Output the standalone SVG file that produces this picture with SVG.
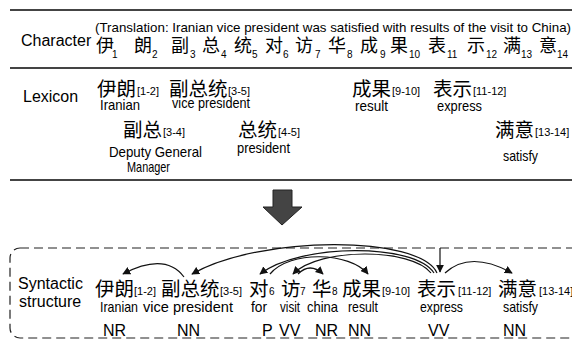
<svg xmlns="http://www.w3.org/2000/svg" width="572" height="342" viewBox="0 0 572 342">
<defs>
<style>
.lab{font-family:"Liberation Sans",Arial,sans-serif;font-size:16px;fill:#000}
.zh{font-family:"Noto Sans CJK SC",sans-serif;fill:#000}
.c18{font-size:18px}
.c20{font-size:19.5px}
.nar{font-family:"Liberation Sans Narrow","Liberation Sans",Arial,sans-serif;fill:#000}
.sub{font-family:"Liberation Sans",Arial,sans-serif;font-size:10px;fill:#000}
.br{font-family:"Liberation Sans Narrow","Liberation Sans",Arial,sans-serif;font-size:11px;fill:#000}
.gl{font-family:"Liberation Sans Narrow","Liberation Sans",Arial,sans-serif;font-size:14.5px;fill:#000}
.pos{font-family:"Liberation Sans",Arial,sans-serif;font-size:16px;fill:#000}
.rule{stroke:#444;stroke-width:2;fill:none}
.arc{stroke:#111;stroke-width:1.2;fill:none;marker-end:url(#ah)}
</style>
<marker id="ah" viewBox="0 0 10 10" refX="9" refY="5" markerWidth="8" markerHeight="8" markerUnits="userSpaceOnUse" orient="auto">
<path d="M0,0 L10,5 L0,10 z" fill="#111"/>
</marker>
</defs>
<rect width="572" height="342" fill="#fff"/>
<g id="rules">
<line class="rule" x1="10" y1="10" x2="572" y2="10"/>
<line class="rule" x1="10" y1="68" x2="572" y2="68"/>
<line class="rule" x1="10" y1="180" x2="572" y2="180"/>
</g>
<g id="character">
<text class="lab" x="21" y="46">Character</text>
<text class="nar" font-size="13" x="95" y="32" textLength="476" lengthAdjust="spacingAndGlyphs">(Translation: Iranian vice president was satisfied with results of the visit to China)</text>
<text class="zh c18" x="96" y="52">伊</text><text class="sub" x="112" y="58">1</text>
<text class="zh c18" x="134" y="52">朗</text><text class="sub" x="152" y="58">2</text>
<text class="zh c18" x="171" y="52">副</text><text class="sub" x="190" y="58">3</text>
<text class="zh c18" x="202" y="52">总</text><text class="sub" x="221" y="58">4</text>
<text class="zh c18" x="234" y="52">统</text><text class="sub" x="252" y="58">5</text>
<text class="zh c18" x="265" y="52">对</text><text class="sub" x="283" y="58">6</text>
<text class="zh c18" x="295" y="52">访</text><text class="sub" x="315" y="58">7</text>
<text class="zh c18" x="328" y="52">华</text><text class="sub" x="347" y="58">8</text>
<text class="zh c18" x="360" y="52">成</text><text class="sub" x="380" y="58">9</text>
<text class="zh c18" x="390" y="52">果</text><text class="sub" x="409" y="58">10</text>
<text class="zh c18" x="428" y="52">表</text><text class="sub" x="447" y="58">11</text>
<text class="zh c18" x="467" y="52">示</text><text class="sub" x="486" y="58">12</text>
<text class="zh c18" x="503" y="52">满</text><text class="sub" x="521" y="58">13</text>
<text class="zh c18" x="539" y="52">意</text><text class="sub" x="557" y="58">14</text>
</g>
<g id="lexicon">
<text class="lab" x="23" y="102">Lexicon</text>
<g id="lex-yilang"><text class="zh c20" x="97" y="96">伊朗</text><text class="br" x="137" y="95">[1-2]</text><text class="gl" x="100" y="110" textLength="40" lengthAdjust="spacingAndGlyphs">Iranian</text></g>
<g id="lex-fuzongtong"><text class="zh c20" x="169" y="96">副总统</text><text class="br" x="228" y="95">[3-5]</text><text class="gl" x="172" y="108" textLength="78" lengthAdjust="spacingAndGlyphs">vice president</text></g>
<g id="lex-fuzong"><text class="zh c20" x="123" y="137">副总</text><text class="br" x="163" y="136">[3-4]</text><text class="gl" x="109" y="157" textLength="93" lengthAdjust="spacingAndGlyphs">Deputy General</text><text class="gl" x="127" y="172" textLength="43" lengthAdjust="spacingAndGlyphs">Manager</text></g>
<g id="lex-zongtong"><text class="zh c20" x="238" y="137">总统</text><text class="br" x="278" y="136">[4-5]</text><text class="gl" x="237" y="153" textLength="53" lengthAdjust="spacingAndGlyphs">president</text></g>
<g id="lex-chengguo"><text class="zh c20" x="352" y="96">成果</text><text class="br" x="392" y="95">[9-10]</text><text class="gl" x="355" y="111" textLength="33" lengthAdjust="spacingAndGlyphs">result</text></g>
<g id="lex-biaoshi"><text class="zh c20" x="433" y="96">表示</text><text class="br" x="473" y="95">[11-12]</text><text class="gl" x="437" y="111" textLength="45" lengthAdjust="spacingAndGlyphs">express</text></g>
<g id="lex-manyi"><text class="zh c20" x="495" y="137">满意</text><text class="br" x="535" y="136">[13-14]</text><text class="gl" x="503" y="161" textLength="35" lengthAdjust="spacingAndGlyphs">satisfy</text></g>
</g>
<g id="big-arrow">
<polygon points="273,190 292,190 292,207 302,207 282,225 263,207 273,207" fill="#444" stroke="#222" stroke-width="1"/>
</g>
<g id="syntactic">
<rect x="10" y="248" width="580" height="90" rx="10" ry="10" fill="none" stroke="#222" stroke-width="1.2" stroke-dasharray="9 5"/>
<text class="lab" x="18" y="289">Syntactic</text>
<text class="lab" x="19" y="307">structure</text>
<g id="w-yilang"><text class="zh c20" x="95" y="296">伊朗</text><text class="br" x="134" y="295">[1-2]</text><text class="gl" x="100" y="312" textLength="38" lengthAdjust="spacingAndGlyphs">Iranian</text><text class="pos" x="103" y="336">NR</text></g>
<g id="w-fuzongtong"><text class="zh c20" x="161" y="296">副总统</text><text class="br" x="220" y="295">[3-5]</text><text class="gl" x="143" y="312" textLength="90" lengthAdjust="spacingAndGlyphs">vice president</text><text class="pos" x="177" y="336">NN</text></g>
<g id="w-dui"><text class="zh c20" x="249" y="296">对</text><text class="sub" x="269" y="295">6</text><text class="gl" x="251" y="312" textLength="16" lengthAdjust="spacingAndGlyphs">for</text><text class="pos" x="262" y="336">P</text></g>
<g id="w-fang"><text class="zh c20" x="281" y="296">访</text><text class="sub" x="300" y="295">7</text><text class="gl" x="280" y="312" textLength="20" lengthAdjust="spacingAndGlyphs">visit</text><text class="pos" x="279" y="336">VV</text></g>
<g id="w-hua"><text class="zh c20" x="312" y="296">华</text><text class="sub" x="332" y="295">8</text><text class="gl" x="307" y="312" textLength="31" lengthAdjust="spacingAndGlyphs">china</text><text class="pos" x="315" y="336">NR</text></g>
<g id="w-chengguo"><text class="zh c20" x="342" y="296">成果</text><text class="br" x="382" y="295">[9-10]</text><text class="gl" x="348" y="312" textLength="30" lengthAdjust="spacingAndGlyphs">result</text><text class="pos" x="348" y="336">NN</text></g>
<g id="w-biaoshi"><text class="zh c20" x="417" y="296">表示</text><text class="br" x="458" y="295">[11-12]</text><text class="gl" x="420" y="312" textLength="43" lengthAdjust="spacingAndGlyphs">express</text><text class="pos" x="428" y="336">VV</text></g>
<g id="w-manyi"><text class="zh c20" x="498" y="296">满意</text><text class="br" x="539" y="295">[13-14]</text><text class="gl" x="503" y="312" textLength="35" lengthAdjust="spacingAndGlyphs">satisfy</text><text class="pos" x="503" y="336">NN</text></g>
</g>
<g id="connectors">
<path class="arc" d="M184,277 Q165,252 123,274"/>
<path class="arc" d="M437,273 C420,235 260,235 192,274"/>
<path class="arc" d="M434,273 C415,243 300,243 260,274"/>
<path class="arc" d="M431,273 C412,248 320,247 293,274"/>
<path class="arc" d="M270,274 C290,250 350,252 368,274"/>
<path class="arc" d="M298,274 Q310,262 323,274"/>
<path class="arc" d="M445,273 Q470,250 512,273"/>
<path class="arc" d="M440,248 L440,272"/>
</g>
</svg>
